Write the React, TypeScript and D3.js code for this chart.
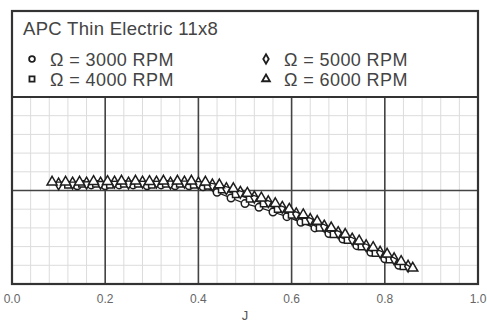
import { useEffect, useRef } from 'react'
import * as d3 from 'd3'

const xTicks = [0, 0.2, 0.4, 0.6, 0.8, 1.0]
const xTickLabels = ['0.0', '0.2', '0.4', '0.6', '0.8', '1.0']

const J6000 = [0.086, 0.115, 0.145, 0.175, 0.205, 0.235, 0.265, 0.295, 0.325, 0.355, 0.385, 0.415, 0.445, 0.475, 0.505, 0.535, 0.565, 0.595, 0.625, 0.655, 0.685, 0.715, 0.745, 0.775, 0.805, 0.835, 0.86]
const V6000 = [0.545, 0.545, 0.545, 0.548, 0.548, 0.55, 0.55, 0.548, 0.55, 0.55, 0.55, 0.545, 0.53, 0.51, 0.485, 0.46, 0.43, 0.4, 0.37, 0.335, 0.3, 0.265, 0.23, 0.195, 0.16, 0.12, 0.085]

const J5000 = [0.1, 0.13, 0.16, 0.19, 0.22, 0.25, 0.28, 0.31, 0.34, 0.37, 0.4, 0.43, 0.46, 0.49, 0.52, 0.55, 0.58, 0.61, 0.64, 0.67, 0.7, 0.73, 0.76, 0.79, 0.82, 0.85]
const V5000 = [0.535, 0.54, 0.54, 0.54, 0.545, 0.54, 0.545, 0.545, 0.54, 0.545, 0.54, 0.53, 0.51, 0.49, 0.465, 0.44, 0.41, 0.375, 0.345, 0.31, 0.275, 0.24, 0.205, 0.17, 0.135, 0.095]

const J4000 = [0.12, 0.15, 0.18, 0.21, 0.24, 0.27, 0.3, 0.33, 0.36, 0.39, 0.42, 0.45, 0.48, 0.51, 0.54, 0.57, 0.6, 0.63, 0.66, 0.69, 0.72, 0.75, 0.78, 0.81, 0.84]
const V4000 = [0.53, 0.535, 0.535, 0.53, 0.535, 0.535, 0.53, 0.535, 0.535, 0.53, 0.525, 0.505, 0.48, 0.455, 0.43, 0.4, 0.37, 0.335, 0.3, 0.265, 0.235, 0.2, 0.165, 0.13, 0.095]

const J3000 = [0.14, 0.17, 0.2, 0.23, 0.26, 0.29, 0.32, 0.35, 0.38, 0.41, 0.44, 0.47, 0.5, 0.53, 0.56, 0.59, 0.62, 0.65, 0.68, 0.71, 0.74, 0.77, 0.8, 0.83]
const V3000 = [0.525, 0.53, 0.525, 0.53, 0.53, 0.525, 0.53, 0.525, 0.525, 0.52, 0.49, 0.46, 0.43, 0.41, 0.385, 0.36, 0.33, 0.3, 0.27, 0.24, 0.205, 0.17, 0.135, 0.1]

const seriesNames = ['Ω = 3000 RPM', 'Ω = 4000 RPM', 'Ω = 5000 RPM', 'Ω = 6000 RPM']

export default function App() {
  const svgRef = useRef<SVGSVGElement>(null)

  useEffect(() => {
    const width = 487, height = 322
    const svg = d3.select(svgRef.current)
    svg.selectAll('*').remove()
    svg.attr('width', width).attr('height', height).style('background', '#fff')

    const left = 12, right = 478, top = 97, bottom = 284, frameTop = 11
    const x = d3.scaleLinear().domain([0, 1]).range([left, right])
    const y = d3.scaleLinear().domain([0, 1]).range([bottom, top])

    const font = 'Liberation Sans, Arial, sans-serif'
    const ink = '#1e1e1e'

    // minor grid
    d3.range(0, 1.0001, 0.04).forEach(v => {
      svg.append('line')
        .attr('x1', x(v)).attr('x2', x(v)).attr('y1', top).attr('y2', bottom)
        .attr('stroke', '#dcdcdc').attr('stroke-width', 1)
    })
    d3.range(0, 1.0001, 0.1).forEach(v => {
      svg.append('line')
        .attr('x1', left).attr('x2', right).attr('y1', y(v)).attr('y2', y(v))
        .attr('stroke', '#dcdcdc').attr('stroke-width', 1)
    })
    // major grid
    xTicks.forEach(v => {
      svg.append('line')
        .attr('x1', x(v)).attr('x2', x(v)).attr('y1', top).attr('y2', bottom)
        .attr('stroke', '#444').attr('stroke-width', 1.6)
    })
    svg.append('line')
      .attr('x1', left).attr('x2', right).attr('y1', y(0.5)).attr('y2', y(0.5))
      .attr('stroke', '#444').attr('stroke-width', 1.6)

    // frame + legend box
    svg.append('rect')
      .attr('x', left).attr('y', frameTop).attr('width', right - left).attr('height', bottom - frameTop)
      .attr('fill', 'none').attr('stroke', '#333').attr('stroke-width', 2.2)
    svg.append('line')
      .attr('x1', left).attr('x2', right).attr('y1', top).attr('y2', top)
      .attr('stroke', '#333').attr('stroke-width', 2.2)

    // tick labels
    xTicks.forEach((v, i) => {
      svg.append('text')
        .text(xTickLabels[i])
        .attr('x', x(v)).attr('y', 303)
        .attr('text-anchor', 'middle')
        .attr('font-family', font).attr('font-size', 12)
        .attr('fill', '#666')
    })
    svg.append('text').text('J')
      .attr('x', 245).attr('y', 320)
      .attr('text-anchor', 'middle')
      .attr('font-family', font).attr('font-size', 13)
      .attr('fill', '#555')

    const symbols = [d3.symbolCircle, d3.symbolSquare, d3.symbolDiamond, d3.symbolTriangle]
    const sizes = [44, 40, 40, 44]
    const data = [
      J3000.map((j, i) => [j, V3000[i]]),
      J4000.map((j, i) => [j, V4000[i]]),
      J5000.map((j, i) => [j, V5000[i]]),
      J6000.map((j, i) => [j, V6000[i]]),
    ]

    const line = d3.line<number[]>().x(d => x(d[0])).y(d => y(d[1]))

    data.forEach((pts, s) => {
      svg.append('path')
        .attr('d', line(pts))
        .attr('fill', 'none')
        .attr('stroke', ink)
        .attr('stroke-width', 1.3)
      const sym = d3.symbol().type(symbols[s]).size(sizes[s])
      svg.append('g').selectAll('path')
        .data(pts)
        .enter()
        .append('path')
        .attr('d', sym())
        .attr('transform', d => `translate(${x(d[0])},${y(d[1])})`)
        .attr('fill', '#fff')
        .attr('stroke', ink)
        .attr('stroke-width', 1.5)
    })

    // legend
    svg.append('text').text('APC Thin Electric 11x8')
      .attr('x', 23).attr('y', 35)
      .attr('font-family', font).attr('font-size', 18.5)
      .attr('letter-spacing', 0.3)
      .attr('fill', '#444')

    const legendPos = [[32, 59], [32, 79], [266, 59], [266, 79]]
    seriesNames.forEach((name, i) => {
      const [lx, ly] = legendPos[i]
      svg.append('path')
        .attr('d', d3.symbol().type(symbols[i]).size(26)())
        .attr('transform', `translate(${lx},${ly})`)
        .attr('fill', '#fff')
        .attr('stroke', ink)
        .attr('stroke-width', 1.8)
      svg.append('text').text(name)
        .attr('x', lx + 18).attr('y', ly + 7)
        .attr('font-family', font).attr('font-size', 18)
        .attr('letter-spacing', 0.4)
        .attr('fill', '#444')
    })
  }, [])

  return (
    <svg ref={svgRef} style={{ position: 'absolute', left: 0, top: 0 }} />
  )
}
